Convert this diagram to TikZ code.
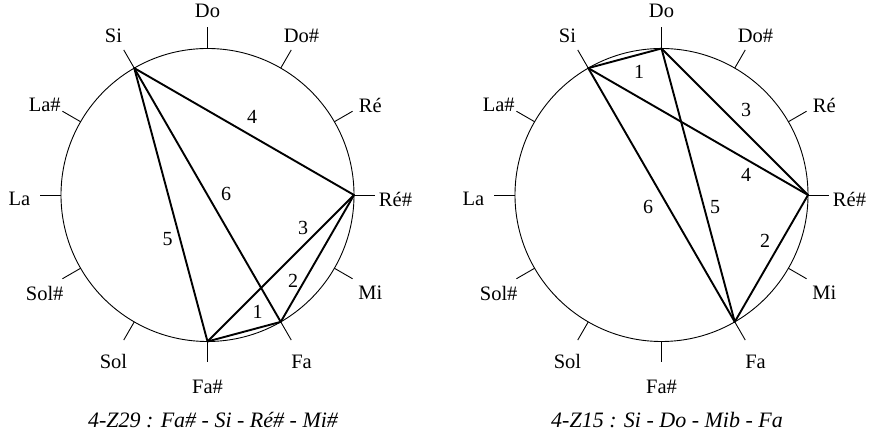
\documentclass[tikz,border=0pt]{standalone}
\usepackage{fontspec}
\setmainfont{Liberation Serif}
\begin{document}
\begin{tikzpicture}[x=1pt,y=1pt,
  circ/.style={line width=0.9pt},
  tickline/.style={line width=0.9pt},
  chord/.style={line width=1.9pt, line join=round, line cap=round},
  note/.style={font=\fontsize{20.5}{22}\selectfont, inner sep=0pt},
  num/.style={font=\fontsize{20}{22}\selectfont, inner sep=0pt},
  captext/.style={font=\fontsize{22}{24}\selectfont\itshape, inner sep=0pt}]
\useasboundingbox (0,0) rectangle (876,438);
\def\R{146.5}
\foreach \cx/\pre in {207.5/L, 661.5/R} {
  \begin{scope}[shift={(\cx,243)}]
    \draw[circ] (0,0) circle (\R);
    \foreach \a/\n/\nm in {90/Do/do, 60/Do\#/dos, 30/Ré/re, 0/Ré\#/res, -30/Mi/mi, -60/Fa/fa, -90/Fa\#/fas, -120/Sol/sol, -150/Sol\#/sols, 180/La/la, 150/La\#/las, 120/Si/si} {
      \coordinate (\pre\nm) at (\a:\R);
      \draw[tickline] (\a:\R) -- (\a:\R+21);
      \node[note] (\pre\nm lab) at ([yshift=-4pt]\a:188) {\n};
    }
  \end{scope}
}
% left chords
\draw[chord] (Lsi) -- (Lres);
\draw[chord] (Lsi) -- (Lfa);
\draw[chord] (Lsi) -- (Lfas);
\draw[chord] (Lres) -- (Lfas);
\draw[chord] (Lres) -- (Lfa);
\draw[chord] (Lfa) -- (Lfas);
\node[num] (l4) at (252,321) {4};
\node[num] (l6) at (226,244.5) {6};
\node[num] (l5) at (167.5,199) {5};
\node[num] (l3) at (303,210) {3};
\node[num] (l2) at (293,157) {2};
\node[num] (l1) at (257.5,126) {1};
% right chords
\draw[chord] (Rsi) -- (Rdo);
\draw[chord] (Rdo) -- (Rres);
\draw[chord] (Rsi) -- (Rres);
\draw[chord] (Rsi) -- (Rfa);
\draw[chord] (Rdo) -- (Rfa);
\draw[chord] (Rres) -- (Rfa);
\node[num] (r1) at (639,366) {1};
\node[num] (r3) at (746,328) {3};
\node[num] (r4) at (746,263) {4};
\node[num] (r6) at (648,231) {6};
\node[num] (r5) at (715,231) {5};
\node[num] (r2) at (765,197) {2};
% captions
\node[captext] (capL) at (213,18) {4-Z29 : Fa\# - Si - Ré\# - Mi\#};
\node[captext] (capR) at (667,18) {4-Z15 : Si - Do - Mib - Fa};
\end{tikzpicture}
\end{document}
